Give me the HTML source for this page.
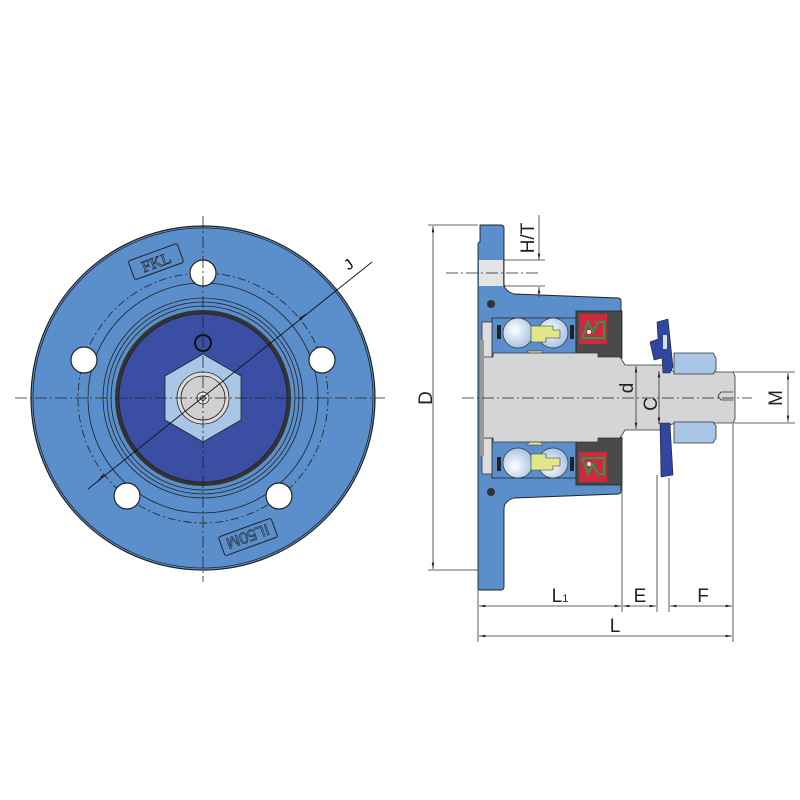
<!DOCTYPE html>
<html><head><meta charset="utf-8"><style>html,body{margin:0;padding:0;background:#fff}svg{display:block}</style></head><body>
<svg width="800" height="800" viewBox="0 0 800 800" xmlns="http://www.w3.org/2000/svg" font-family="Liberation Sans, sans-serif">
<defs>
<marker id="a" viewBox="0 0 10 10" refX="10" refY="5" markerWidth="8" markerHeight="8" orient="auto-start-reverse"><path d="M0,3 L10,5 L0,7z" fill="#222"/></marker>
<radialGradient id="ball" cx="40%" cy="40%" r="60%"><stop offset="0" stop-color="#fff"/><stop offset="1" stop-color="#a9c4e6"/></radialGradient>
<g id="half">
<rect x="492" y="318" width="84" height="40" fill="#5b8fcc" stroke="#222" stroke-width="0.8"/>
<rect x="482" y="322" width="10" height="36" fill="#ddd" stroke="#333" stroke-width="0.8"/>
<circle cx="518" cy="333" r="15" fill="url(#ball)" stroke="#333" stroke-width="0.7"/>
<circle cx="553" cy="333" r="15" fill="url(#ball)" stroke="#333" stroke-width="0.7"/>
<path d="M531,326 h22 v4 h7 v8 h-14 v4 h-15z" fill="#dfe78a" stroke="#333" stroke-width="0.6"/>
<path d="M527,351 h16 l-4,4 h-8z" fill="#dfe78a" stroke="#333" stroke-width="0.5"/>
<rect x="497" y="325" width="4" height="14" fill="#222"/>
<rect x="570" y="325" width="4" height="14" fill="#222"/>
<rect x="576" y="311" width="46" height="47" fill="#4a4a4a" stroke="#222" stroke-width="0.8"/>
<rect x="579" y="314" width="28" height="30" fill="#d0283c"/>
<path d="M583,336 l5,-14 5,10 5,-10 6,0 v16 h-21z" fill="none" stroke="#1aa050" stroke-width="2"/>
<circle cx="589" cy="332" r="2" fill="#fff"/>
<rect x="487" y="300" width="8" height="8" rx="4" fill="#333"/>
</g>
</defs>

<g stroke="#222" stroke-width="0.8">
<circle cx="203" cy="398" r="172" fill="#5b8fcc" stroke-width="1.2"/>
<circle cx="203" cy="398" r="170" fill="none"/>
<circle cx="203" cy="398" r="125" fill="none" stroke-dasharray="8 3 2 3"/>
<circle cx="203" cy="398" r="115" fill="none"/>
<circle cx="203" cy="398" r="100" fill="none"/>
<circle cx="203" cy="398" r="96" fill="none"/>
<circle cx="203" cy="398" r="92" fill="none"/>
<circle cx="203" cy="398" r="86" fill="none" stroke="#333" stroke-width="4"/>
<circle cx="203" cy="398" r="84" fill="#3a4fa4"/>
<polygon points="203,354 241,376 241,420 203,442 165,420 165,376" fill="#a9c6e6"/>
<circle cx="203" cy="398" r="26" fill="#dcdcdc"/>
<circle cx="203" cy="398" r="22" fill="#d0d0d0"/>
<circle cx="203" cy="398" r="6" fill="#e8e8e8"/>
<circle cx="203" cy="398" r="2.5" fill="none"/>
<circle cx="203" cy="343" r="8" fill="none" stroke="#111" stroke-width="2"/>
<g fill="#fff" stroke-width="1.2">
<circle cx="203" cy="273" r="13"/><circle cx="84" cy="360" r="13"/><circle cx="322" cy="360" r="13"/>
<circle cx="127" cy="496" r="13"/><circle cx="279" cy="496" r="13"/>
</g>
</g>
<g stroke="#222" stroke-width="0.8" stroke-dasharray="12 3 2 3" fill="none">
<line x1="203" y1="216" x2="203" y2="582"/>
<line x1="15" y1="398" x2="385" y2="398"/>
</g>
<line x1="88" y1="489" x2="372" y2="262" stroke="#111" stroke-width="0.9"/>
<line x1="100" y1="479" x2="98" y2="481" stroke="#111" marker-end="url(#a)"/>
<line x1="300" y1="319" x2="306" y2="314" stroke="#111" marker-end="url(#a)"/>
<text x="345" y="272" font-size="15" transform="rotate(-38 345 266)">J</text>
<g transform="rotate(-20 155 262)"><rect x="130" y="252" width="52" height="20" rx="2" fill="none" stroke="#222"/><text x="156" y="268" font-size="16" text-anchor="middle" font-family="Liberation Serif, serif" fill="#5b8fcc" stroke="#222" stroke-width="0.6">FKL</text></g>
<g transform="rotate(160 248 537)"><rect x="220" y="527" width="56" height="20" rx="2" fill="none" stroke="#222"/><text x="248" y="543" font-size="16" text-anchor="middle" fill="#5b8fcc" stroke="#222" stroke-width="0.6">IL50M</text></g>

<path d="M480,225 h21 q3,0 3,3 v55 q0,8 10,11 l104,4 q3,0 3,3 v190 q0,3 -3,3 l-104,4 q-10,3 -10,11 v78 q0,3 -3,3 h-21 q-2,0 -2,-3 v-342 q0,-3 2,-3z" fill="#5b8fcc" stroke="#222" stroke-width="0.9"/>
<rect x="479" y="260" width="24" height="26" fill="#e4e4e4"/>
<use href="#half"/>
<use href="#half" transform="translate(0,796) scale(1,-1)"/>
<path d="M481,357 h12 v-4 h105 v4 h22 l5,8 h45 v5 l5,2 h58 l2,4 v43 l-2,4 h-58 l-5,2 v5 h-45 l-5,8 h-22 v4 h-105 v-4 h-12z" fill="#d3d5d7" stroke="#333" stroke-width="0.8"/>
<rect x="480" y="340" width="4" height="116" fill="#999"/>
<path d="M657,322 l11,-3 l5,48 l-3,6 l-7,0 l-1,-15 l-8,2 l-4,-18 l8,-3z" fill="#2f47a0" stroke="#222" stroke-width="0.6"/>
<path d="M660,423 l10,0 l3,52 l-12,2z" fill="#2f47a0" stroke="#222" stroke-width="0.6"/>
<rect x="663" y="335" width="4" height="14" fill="#ddd"/>
<path d="M674,353 h39 l3,5 v12 l-3,4 h-39z" fill="#a9c6e6" stroke="#333" stroke-width="0.8"/>
<path d="M674,422 h39 l3,4 v12 l-3,5 h-39z" fill="#a9c6e6" stroke="#333" stroke-width="0.8"/>
<path d="M733,392 h-12 l-3,4 3,4 h12" fill="none" stroke="#333" stroke-width="0.8"/>
<g stroke="#222" stroke-width="0.8" stroke-dasharray="12 3 2 3" fill="none">
<line x1="462" y1="398" x2="752" y2="398"/>
<line x1="446" y1="273" x2="540" y2="273"/>
</g>
<g stroke="#333" stroke-width="0.8" fill="none">
<line x1="428" y1="225" x2="478" y2="225"/>
<line x1="428" y1="570" x2="478" y2="570"/>
<line x1="433" y1="226" x2="433" y2="569" marker-start="url(#a)" marker-end="url(#a)"/>
<line x1="503" y1="260" x2="545" y2="260"/>
<line x1="503" y1="286" x2="545" y2="286"/>
<line x1="539" y1="215" x2="539" y2="260" marker-end="url(#a)"/>
<line x1="539" y1="297" x2="539" y2="287" marker-end="url(#a)"/>
<line x1="478" y1="572" x2="478" y2="642"/>
<line x1="622" y1="437" x2="622" y2="612"/>
<line x1="657" y1="475" x2="657" y2="612"/>
<line x1="669" y1="478" x2="669" y2="612"/>
<line x1="733" y1="424" x2="733" y2="642"/>
<line x1="479" y1="606" x2="621" y2="606" marker-start="url(#a)" marker-end="url(#a)"/>
<line x1="623" y1="606" x2="656" y2="606" marker-start="url(#a)" marker-end="url(#a)"/>
<line x1="670" y1="606" x2="732" y2="606" marker-start="url(#a)" marker-end="url(#a)"/>
<line x1="479" y1="636" x2="732" y2="636" marker-start="url(#a)" marker-end="url(#a)"/>
<line x1="636" y1="366" x2="636" y2="429" marker-start="url(#a)" marker-end="url(#a)"/>
<line x1="659" y1="371" x2="659" y2="424" marker-start="url(#a)" marker-end="url(#a)"/>
<line x1="733" y1="372" x2="795" y2="372"/>
<line x1="733" y1="423" x2="795" y2="423"/>
<line x1="788" y1="373" x2="788" y2="422" marker-start="url(#a)" marker-end="url(#a)"/>
</g>
<g font-size="19" fill="#222">
<text x="560" y="602" text-anchor="middle">L<tspan font-size="11">1</tspan></text>
<text x="640" y="602" text-anchor="middle">E</text>
<text x="703" y="602" text-anchor="middle">F</text>
<text x="615" y="632" text-anchor="middle">L</text>
<text transform="translate(432,398) rotate(-90)" text-anchor="middle">D</text>
<text transform="translate(633,388) rotate(-90)" text-anchor="middle">d</text>
<text transform="translate(657,404) rotate(-90)" text-anchor="middle">C</text>
<text transform="translate(782,398) rotate(-90)" text-anchor="middle">M</text>
<text transform="translate(534,238) rotate(-90)" text-anchor="middle">H/T</text>
</g>
</svg>
</body></html>
